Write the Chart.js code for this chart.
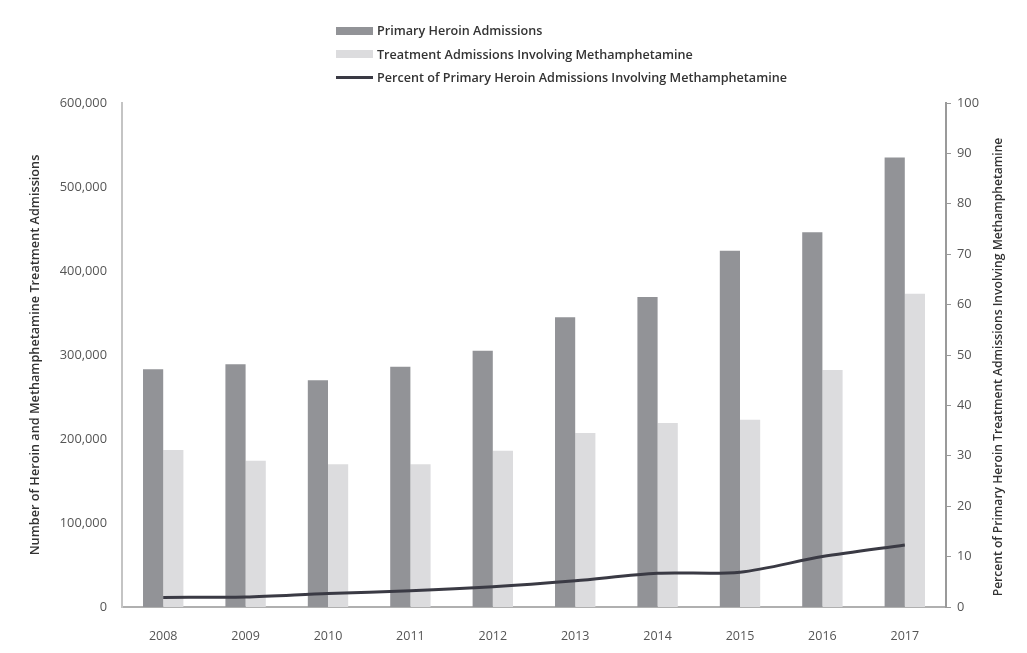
<!DOCTYPE html>
<html>
<head>
<meta charset="utf-8">
<script src="https://cdn.jsdelivr.net/npm/chart.js@4.4.0/dist/chart.umd.min.js"></script>
<style>
  html, body { margin: 0; padding: 0; background: #fff; }
  #wrap { position: relative; width: 1027px; height: 653px; }
  #legend { position: absolute; left: 336px; top: 19px; font-family: "Open Sans", "Liberation Sans", sans-serif; font-weight: 600; font-size: 12.6px; color: #333; }
  .item { height: 23.5px; display: flex; align-items: center; }
  .sw { width: 37px; margin-right: 4px; }
</style>
</head>
<body>
<div id="wrap">
  <canvas id="c" width="1027" height="653"></canvas>
  <div id="legend"></div>
</div>
<script>
const years = ["2008","2009","2010","2011","2012","2013","2014","2015","2016","2017"];
const heroinAdmissions = [283000, 289000, 270000, 286000, 305000, 345000, 369000, 424000, 446000, 535000];
const methAdmissions = [187000, 174000, 170000, 170000, 186000, 207000, 219000, 223000, 282000, 373000];
const percentInvolvingMeth = [1.9, 2.0, 2.7, 3.2, 4.0, 5.2, 6.7, 6.9, 10.0, 12.3];
const seriesLabels = [
  "Primary Heroin Admissions",
  "Treatment Admissions Involving Methamphetamine",
  "Percent of Primary Heroin Admissions Involving Methamphetamine"
];
const leftTitle = "Number of Heroin and Methamphetamine Treatment Admissions";
const rightTitle = "Percent of Primary Heroin Treatment Admissions Involving Methamphetamine";

const FONT = '"Open Sans", "Liberation Sans", sans-serif';

const rightTitlePlugin = {
  id: 'rightTitle',
  afterDraw(chart) {
    const ctx = chart.ctx;
    const s = chart.scales.y1;
    ctx.save();
    ctx.translate(s.right - 8, (chart.chartArea.top + chart.chartArea.bottom) / 2 + 12);
    ctx.rotate(-Math.PI / 2);
    ctx.font = '600 12.1px ' + FONT;
    ctx.fillStyle = '#333';
    ctx.textAlign = 'center';
    ctx.textBaseline = 'middle';
    ctx.fillText(rightTitle, 0, 0);
    ctx.restore();
  }
};

const chart = new Chart(document.getElementById('c'), {
  data: {
    labels: years,
    datasets: [
      { type: 'line', label: seriesLabels[2], data: percentInvolvingMeth, yAxisID: 'y1',
        borderColor: '#3a3a44', borderWidth: 3, pointRadius: 0, tension: 0.3, order: 0 },
      { type: 'bar', label: seriesLabels[0], data: heroinAdmissions, yAxisID: 'y',
        backgroundColor: '#929397', barPercentage: 1, categoryPercentage: 0.49, order: 1 },
      { type: 'bar', label: seriesLabels[1], data: methAdmissions, yAxisID: 'y',
        backgroundColor: '#dcdcde', barPercentage: 1, categoryPercentage: 0.49, order: 2 }
    ]
  },
  options: {
    responsive: false,
    animation: false,
    layout: { padding: { left: 26, right: 20, top: 103, bottom: 6 } },
    plugins: { legend: { display: false }, tooltip: { enabled: false } },
    scales: {
      x: {
        grid: { display: false },
        border: { color: '#b0b0b0', width: 2 },
        ticks: { color: '#555', font: { family: FONT, size: 12.5 }, padding: 14, maxRotation: 0 },
        afterFit: s => { s.height = 40; }
      },
      y: {
        position: 'left', min: 0, max: 600000,
        grid: { display: false },
        border: { color: '#c4c4c4', width: 2 },
        ticks: { stepSize: 100000, color: '#555', padding: 7, font: { family: FONT, size: 12.8 },
                 callback: v => v.toLocaleString('en-US') },
        title: { display: true, text: leftTitle, color: '#333', font: { family: FONT, size: 12.7, weight: '600' }, padding: 2 },
        afterFit: s => { s.width = 96; }
      },
      y1: {
        position: 'right', min: 0, max: 100,
        grid: { display: true, drawOnChartArea: false, drawTicks: true, tickLength: 5, color: '#999' },
        border: { color: '#9a9a9a', width: 2 },
        ticks: { stepSize: 10, color: '#555', padding: 6, font: { family: FONT, size: 12.8 } },
        title: { display: false },
        afterFit: s => { s.width = 61; }
      }
    }
  },
  plugins: [rightTitlePlugin]
});

// HTML legend built from datasets
const legend = document.getElementById('legend');
const legendOrder = [1, 2, 0];
legendOrder.forEach(i => {
  const ds = chart.data.datasets[i];
  const row = document.createElement('div');
  row.className = 'item';
  const sw = document.createElement('div');
  sw.className = 'sw';
  if (ds.type === 'line') { sw.style.height = '3px'; sw.style.background = ds.borderColor; }
  else { sw.style.height = '8px'; sw.style.background = ds.backgroundColor; }
  const tx = document.createElement('span');
  tx.textContent = ds.label;
  row.appendChild(sw); row.appendChild(tx);
  legend.appendChild(row);
});
</script>
</body>
</html>
